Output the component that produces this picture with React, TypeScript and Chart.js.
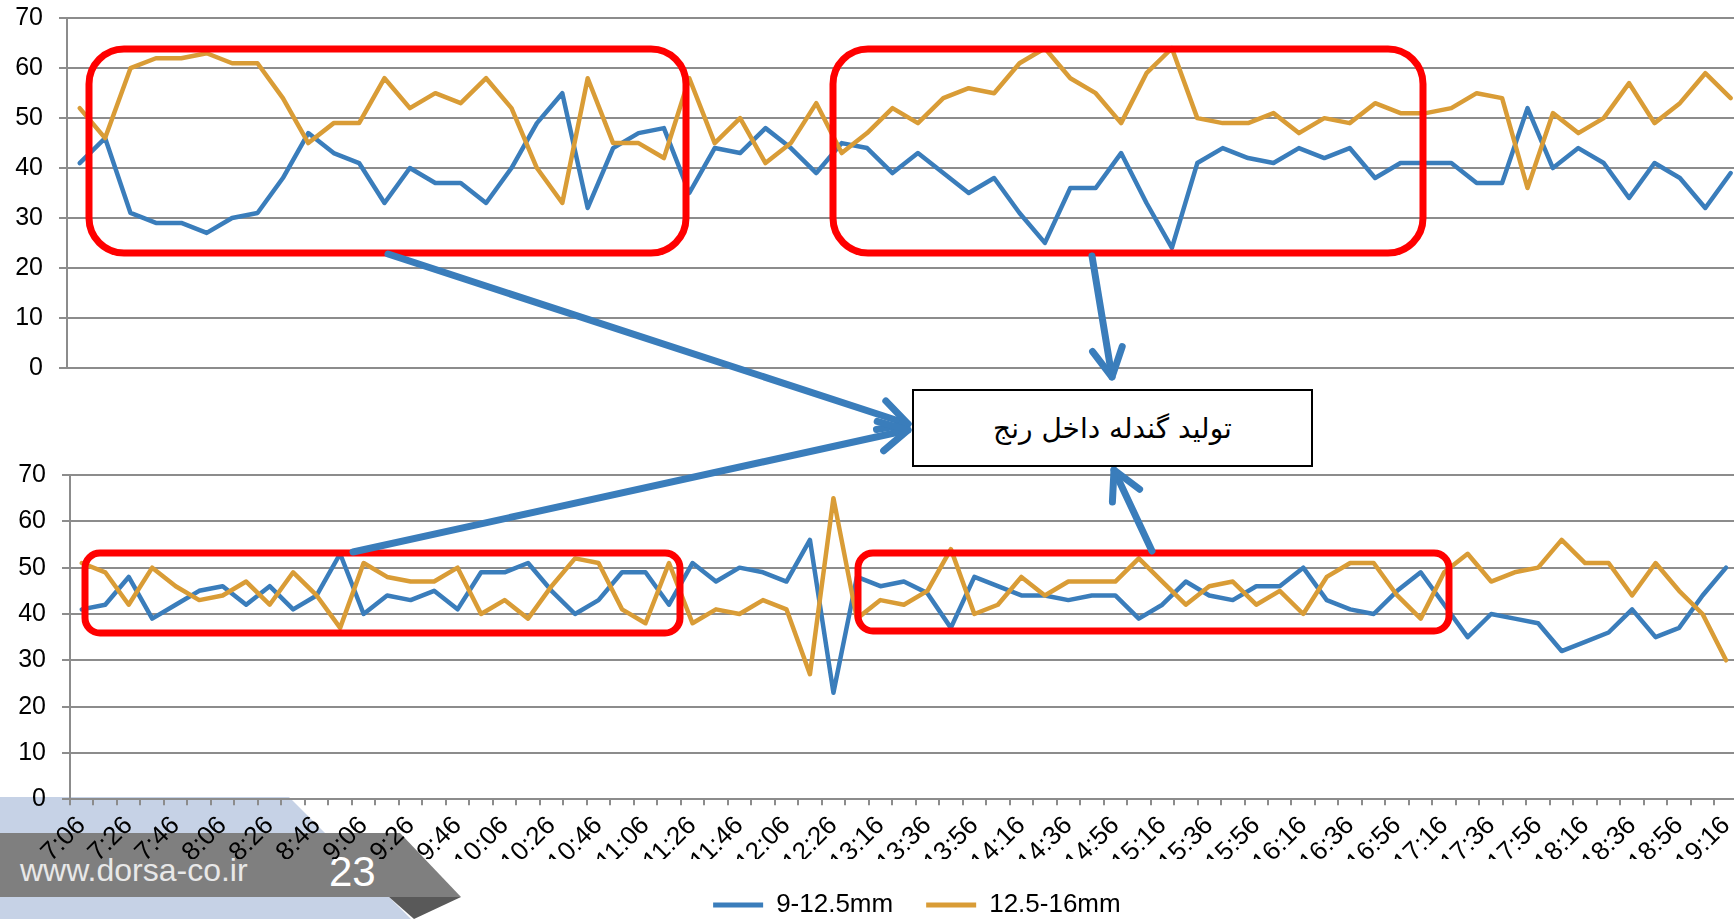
import React, { useEffect, useRef } from 'react';
import { Chart, registerables } from 'chart.js';

Chart.register(...registerables);

// ---------- data ----------
const topCategories = [
  '7:06','7:16','7:26','7:36','7:46','7:56','8:06','8:16','8:26','8:36','8:46','8:56',
  '9:06','9:16','9:26','9:36','9:46','9:56','10:06','10:16','10:26','10:36','10:46','10:56',
  '11:06','11:16','11:26','11:36','11:46','11:56','12:06','12:16','12:26','12:36','12:46','12:56',
  '13:06','13:16','13:26','13:36','13:46','13:56','14:06','14:16','14:26','14:36','14:46','14:56',
  '15:06','15:16','15:26','15:36','15:46','15:56','16:06','16:16','16:26','16:36','16:46','16:56',
  '17:06','17:16','17:26','17:36','17:46','17:56',
];
const topBlue = [
  41, 46, 31, 29, 29, 27, 30, 31, 38, 47, 43, 41, 33, 40, 37, 37, 33,
  40, 49, 55, 32, 44, 47, 48, 35, 44, 43, 48, 44, 39, 45, 44, 39, 43,
  39, 35, 38, 31, 25, 36, 36, 43, 33, 24, 41, 44, 42, 41, 44, 42,
  44, 38, 41, 41, 41, 37, 37, 52, 40, 44, 41, 34, 41, 38, 32, 39,
];
const topOrange = [
  52, 46, 60, 62, 62, 63, 61, 61, 54, 45, 49, 49, 58, 52, 55, 53, 58,
  52, 40, 33, 58, 45, 45, 42, 58, 45, 50, 41, 45, 53, 43, 47, 52, 49,
  54, 56, 55, 61, 64, 58, 55, 49, 59, 64, 50, 49, 49, 51, 47, 50,
  49, 53, 51, 51, 52, 55, 54, 36, 51, 47, 50, 57, 49, 53, 59, 54,
];

const bottomCategories = [
  '7:06','7:16','7:26','7:36','7:46','7:56','8:06','8:16','8:26','8:36','8:46','8:56',
  '9:06','9:16','9:26','9:36','9:46','9:56','10:06','10:16','10:26','10:36','10:46','10:56',
  '11:06','11:16','11:26','11:36','11:46','11:56','12:06','12:16','12:26','12:36',
  '13:16','13:26','13:36','13:46','13:56','14:06','14:16','14:26','14:36','14:46','14:56',
  '15:06','15:16','15:26','15:36','15:46','15:56','16:06','16:16','16:26','16:36','16:46','16:56',
  '17:06','17:16','17:26','17:36','17:46','17:56','18:06','18:16','18:26','18:36','18:46','18:56',
  '19:06','19:16',
];
const bottomBlue = [
  41, 42, 48, 39, 42, 45, 46, 42, 46, 41, 44, 53, 40, 44, 43, 45, 41, 49,
  49, 51, 45, 40, 43, 49, 49, 42, 51, 47, 50, 49, 47, 56, 23, 48, 46, 47,
  44.5, 37, 48, 46, 44, 44, 43, 44, 44, 39, 42, 47, 44, 43, 46, 46, 50, 43,
  41, 40, 45, 49, 42, 35, 40, 39, 38, 32, 34, 36, 41, 35, 37, 44, 50,
];
const bottomOrange = [
  51, 49, 42, 50, 46, 43, 44, 47, 42, 49, 44, 37, 51, 48, 47, 47, 50, 40,
  43, 39, 46, 52, 51, 41, 38, 51, 38, 41, 40, 43, 41, 27, 65, 39, 43, 42,
  45, 54, 40, 42, 48, 44, 47, 47, 47, 52, 47, 42, 46, 47, 42, 45, 40, 48,
  51, 51, 44, 39, 49, 53, 47, 49, 50, 56, 51, 51, 44, 51, 45, 40, 30,
];
const seriesNames = ['9-12.5mm', '12.5-16mm'];
const yMin = 0;
const yMax = 70;
const yStep = 10;

// ---------- styles ----------
const BLUE = '#3a7dbb';
const ORANGE = '#d99c36';
const GRID = '#8c8c8c';
const FONT = "'Liberation Sans', Arial, sans-serif";

function datasets(blue: number[], orange: number[]) {
  const common = {
    borderWidth: 4.5,
    pointRadius: 0,
    pointHoverRadius: 0,
    tension: 0,
    borderJoinStyle: 'round' as const,
    borderCapStyle: 'round' as const,
    fill: false,
  };
  return [
    { ...common, label: seriesNames[0], data: blue, borderColor: BLUE, backgroundColor: BLUE, order: 1 },
    { ...common, label: seriesNames[1], data: orange, borderColor: ORANGE, backgroundColor: ORANGE, order: 0 },
  ];
}

function yScale(width: number) {
  return {
    min: yMin,
    max: yMax,
    ticks: { stepSize: yStep, color: '#000', font: { family: FONT, size: 25 }, padding: 16 },
    grid: { color: GRID, lineWidth: 2, tickLength: 8, drawTicks: true },
    border: { display: true, color: GRID, width: 2 },
    afterFit: (s: any) => { s.width = width; },
  };
}

const legendShift = {
  id: 'legendShift',
  afterLayout(chart: any) {
    if (chart.legend && chart.options.plugins.legend.display) {
      chart.legend.left += 48;
      chart.legend.right += 48;
    }
  },
};

// top chart canvas is placed slightly above the page so the plot area lands at y 18.3 .. 367.7
const TOP_CANVAS_Y = -30;

function TopChart() {
  const ref = useRef<HTMLCanvasElement | null>(null);
  useEffect(() => {
    if (!ref.current) return;
    const chart = new Chart(ref.current, {
      type: 'line',
      data: { labels: topCategories, datasets: datasets(topBlue, topOrange) as any },
      options: {
        animation: false,
        responsive: false,
        maintainAspectRatio: false,
        events: [],
        layout: { padding: { left: 0, right: 16.6, top: 48.3, bottom: 0 } },
        plugins: { legend: { display: false }, tooltip: { enabled: false } },
        scales: {
          x: {
            type: 'category',
            offset: true,
            grid: { display: false, offset: true, drawTicks: false },
            ticks: { display: false },
            border: { display: true, color: GRID, width: 2 },
            afterFit: (s: any) => { s.height = 42.3; },
          } as any,
          y: yScale(67) as any,
        },
      },
    });
    return () => chart.destroy();
  }, []);
  return (
    <canvas
      ref={ref}
      width={1760}
      height={440}
      style={{ position: 'absolute', left: 0, top: TOP_CANVAS_Y, width: 1760, height: 440, display: 'block' }}
    />
  );
}

function BottomChart() {
  const ref = useRef<HTMLCanvasElement | null>(null);
  useEffect(() => {
    if (!ref.current) return;
    const chart = new Chart(ref.current, {
      type: 'line',
      data: { labels: bottomCategories, datasets: datasets(bottomBlue, bottomOrange) as any },
      plugins: [legendShift],
      options: {
        animation: false,
        responsive: false,
        maintainAspectRatio: false,
        events: [],
        layout: { padding: { left: 0, right: 22.2, top: 35, bottom: 0 } },
        plugins: {
          tooltip: { enabled: false },
          legend: {
            display: true,
            position: 'bottom',
            labels: {
              boxWidth: 50,
              boxHeight: 5,
              padding: 33,
              color: '#000',
              font: { family: FONT, size: 26 },
              sort: (a: any, b: any) => a.datasetIndex - b.datasetIndex,
              generateLabels: (c: any) =>
                (Chart.defaults.plugins.legend.labels.generateLabels as any)(c).map((l: any) => ({
                  ...l,
                  lineWidth: 0,
                  fillStyle: l.strokeStyle,
                })),
            },
          },
        },
        scales: {
          x: {
            type: 'category',
            offset: true,
            grid: {
              display: true,
              offset: true,
              drawOnChartArea: false,
              drawTicks: true,
              tickLength: 6,
              color: GRID,
              lineWidth: 2,
            },
            border: { display: true, color: GRID, width: 2 },
            ticks: {
              autoSkip: false,
              minRotation: 45,
              maxRotation: 45,
              padding: 5,
              color: '#000',
              font: { family: FONT, size: 26 },
              callback: (_v: any, i: number) => (i % 2 === 0 ? bottomCategories[i] : ''),
            },
            afterFit: (s: any) => { s.height = 59.7; },
          } as any,
          y: yScale(70) as any,
        },
      },
    });
    return () => chart.destroy();
  }, []);
  return (
    <canvas
      ref={ref}
      width={1760}
      height={488}
      style={{ position: 'absolute', left: 0, top: 440, width: 1760, height: 488, display: 'block' }}
    />
  );
}

function Arrow({ x1, y1, x2, y2 }: { x1: number; y1: number; x2: number; y2: number }) {
  const a = Math.atan2(y1 - y2, x1 - x2);
  const len = 32;
  const sp = (28 * Math.PI) / 180;
  const ax = x2 + len * Math.cos(a + sp);
  const ay = y2 + len * Math.sin(a + sp);
  const bx = x2 + len * Math.cos(a - sp);
  const by = y2 + len * Math.sin(a - sp);
  return (
    <g stroke={BLUE} strokeWidth={7} strokeLinecap="round" strokeLinejoin="round" fill="none">
      <line x1={x1} y1={y1} x2={x2} y2={y2} />
      <polyline points={`${ax},${ay} ${x2},${y2} ${bx},${by}`} />
    </g>
  );
}

export default function App() {
  return (
    <div
      style={{
        position: 'fixed',
        left: 0,
        top: 0,
        width: 1734,
        height: 919,
        overflow: 'hidden',
        background: '#fff',
      }}
    >
      {/* slide footer decoration */}
      <svg width={1734} height={919} style={{ position: 'absolute', left: 0, top: 0 }}>
        <polygon points="0,797 289,797 411,919 0,919" fill="#c6d2e6" />
        <polygon points="0,833 400,833 461,897 0,897" fill="#7f7f7f" />
        <polygon points="389,897 461,897 414,919" fill="#595959" />
        <text x={20} y={881} fill="#e8e8e8" fontFamily={FONT} fontSize={32}>www.dorsa-co.ir</text>
        <text x={329} y={886} fill="#ffffff" fontFamily={FONT} fontSize={42}>23</text>
      </svg>

      <TopChart />
      <BottomChart />

      {/* annotations */}
      <svg
        width={1734}
        height={919}
        style={{ position: 'absolute', left: 0, top: 0, pointerEvents: 'none' }}
      >
        <g fill="none" stroke="#ff0000" strokeWidth={7}>
          <rect x={89} y={49} width={597} height={204} rx={35} ry={35} />
          <rect x={833} y={49} width={590} height={204} rx={35} ry={35} />
          <rect x={85} y={553} width={595} height={80} rx={15} ry={15} />
          <rect x={858} y={553} width={591} height={78} rx={15} ry={15} />
        </g>
        <Arrow x1={388} y1={254} x2={908} y2={424} />
        <Arrow x1={353} y1={552} x2={908} y2={430} />
        <Arrow x1={1092} y1={256} x2={1112} y2={377} />
        <Arrow x1={1152} y1={551} x2={1114} y2={470} />
      </svg>

      <div
        style={{
          position: 'absolute',
          left: 912,
          top: 389,
          width: 401,
          height: 78,
          boxSizing: 'border-box',
          border: '2px solid #000',
          background: '#fff',
          display: 'flex',
          alignItems: 'center',
          justifyContent: 'center',
          direction: 'rtl',
          fontFamily: "'DejaVu Sans', sans-serif",
          fontSize: 28,
          color: '#000',
        }}
      >
        تولید گندله داخل رنج
      </div>
    </div>
  );
}
